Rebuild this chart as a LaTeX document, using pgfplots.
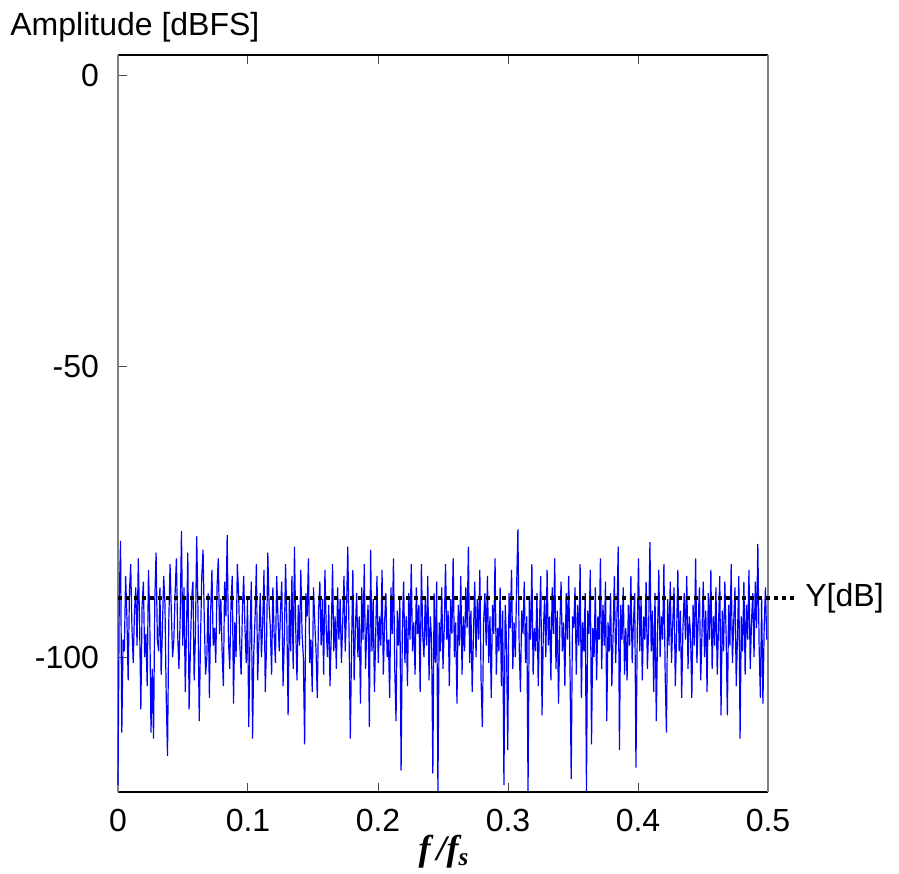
\documentclass[border=0pt]{standalone}
\usepackage{pgfplots}
\pgfplotsset{compat=1.18}
\usepackage{pgfplotstable}
\usepackage{fontspec}
\setmainfont{Liberation Sans}
\newfontfamily\timesf{Liberation Serif}

% noise spectrum, 512 bins (f = k/1024), one value per row
\pgfplotstableread[row sep=\\]{
y\\
-122\\ -90\\ -80\\ -113\\ -97\\ -99\\ -86\\ -93\\ -104\\ -89\\ -84\\ -95\\ -101\\ -92\\ -88\\ -98\\
-83\\ -94\\ -109\\ -91\\ -87\\ -100\\ -96\\ -105\\ -85\\ -93\\ -113\\ -102\\ -114\\ -90\\ -82\\ -97\\
-99\\ -88\\ -103\\ -95\\ -86\\ -91\\ -107\\ -117\\ -94\\ -84\\ -92\\ -100\\ -97\\ -89\\ -83\\ -96\\
-102\\ -93\\ -78.3\\ -98\\ -88\\ -106\\ -95\\ -82\\ -109\\ -99\\ -90\\ -87\\ -104\\ -96\\ -79.2\\ -92\\
-111\\ -97\\ -86\\ -81.5\\ -94\\ -103\\ -100\\ -89\\ -107\\ -92\\ -85\\ -98\\ -95\\ -101\\ -88\\ -83\\
-96\\ -90\\ -99\\ -105\\ -87\\ -93\\ -79\\ -97\\ -102\\ -91\\ -86\\ -108\\ -94\\ -100\\ -84\\ -89\\
-98\\ -103\\ -92\\ -86\\ -95\\ -101\\ -90\\ -112\\ -96\\ -87\\ -114\\ -99\\ -93\\ -84\\ -104\\ -97\\
-89\\ -100\\ -94\\ -85\\ -106\\ -98\\ -82\\ -91\\ -95\\ -103\\ -88\\ -96\\ -101\\ -86\\ -93\\ -99\\
-92\\ -87\\ -105\\ -97\\ -84\\ -94\\ -110\\ -90\\ -99\\ -86\\ -102\\ -81\\ -95\\ -104\\ -91\\ -98\\
-85\\ -96\\ -100\\ -115\\ -89\\ -93\\ -83\\ -101\\ -97\\ -106\\ -88\\ -94\\ -99\\ -107\\ -92\\ -87\\
-98\\ -90\\ -103\\ -85\\ -95\\ -100\\ -91\\ -105\\ -96\\ -84\\ -99\\ -93\\ -102\\ -88\\ -97\\ -90\\
-101\\ -94\\ -86\\ -99\\ -92\\ -81\\ -96\\ -114\\ -98\\ -85\\ -104\\ -95\\ -89\\ -100\\ -93\\ -108\\
-88\\ -97\\ -84\\ -102\\ -95\\ -91\\ -112\\ -81.5\\ -99\\ -90\\ -106\\ -96\\ -86\\ -101\\ -93\\ -98\\
-85\\ -103\\ -94\\ -89\\ -100\\ -97\\ -107\\ -88\\ -96\\ -83\\ -102\\ -111\\ -92\\ -98\\ -90\\ -119.5\\
-95\\ -87\\ -101\\ -93\\ -105\\ -89\\ -97\\ -84\\ -99\\ -94\\ -103\\ -88\\ -96\\ -91\\ -106\\ -84\\
-96\\ -100\\ -90\\ -98\\ -86\\ -104\\ -93\\ -97\\ -120\\ -89\\ -101\\ -87\\ -123\\ -94\\ -99\\ -88\\
-102\\ -95\\ -84\\ -97\\ -92\\ -105\\ -90\\ -96\\ -83\\ -100\\ -94\\ -108\\ -91\\ -98\\ -86\\ -103\\
-93\\ -99\\ -88\\ -95\\ -81\\ -101\\ -92\\ -106\\ -96\\ -87\\ -100\\ -90\\ -97\\ -85\\ -104\\ -112\\
-94\\ -89\\ -98\\ -86\\ -101\\ -93\\ -107\\ -91\\ -96\\ -83\\ -103\\ -95\\ -99\\ -88\\ -105\\ -92\\
-122\\ -91\\ -97\\ -116\\ -89\\ -95\\ -85\\ -102\\ -94\\ -100\\ -88\\ -78\\ -98\\ -106\\ -92\\ -96\\
-87\\ -101\\ -93\\ -123\\ -90\\ -97\\ -84\\ -103\\ -95\\ -99\\ -89\\ -105\\ -94\\ -86\\ -110\\ -96\\
-90\\ -100\\ -85\\ -98\\ -93\\ -104\\ -88\\ -96\\ -83\\ -102\\ -92\\ -108\\ -95\\ -87\\ -99\\ -94\\
-105\\ -89\\ -97\\ -86\\ -101\\ -121\\ -93\\ -95\\ -88\\ -103\\ -91\\ -98\\ -84\\ -107\\ -94\\ -99\\
-89\\ -123\\ -92\\ -96\\ -85\\ -115\\ -95\\ -100\\ -88\\ -104\\ -93\\ -97\\ -83\\ -102\\ -91\\ -98\\
-87\\ -111\\ -94\\ -99\\ -89\\ -105\\ -96\\ -86\\ -101\\ -93\\ -81\\ -116\\ -91\\ -97\\ -88\\ -103\\
-95\\ -104\\ -91\\ -98\\ -86\\ -101\\ -94\\ -89\\ -119\\ -96\\ -83\\ -99\\ -90\\ -104\\ -93\\ -97\\
-87\\ -102\\ -95\\ -80.2\\ -99\\ -92\\ -106\\ -89\\ -111\\ -96\\ -85\\ -100\\ -93\\ -97\\ -84\\ -103\\
-113\\ -90\\ -98\\ -87\\ -101\\ -94\\ -88\\ -105\\ -96\\ -85\\ -99\\ -92\\ -107\\ -95\\ -89\\ -97\\
-86\\ -102\\ -93\\ -96\\ -107\\ -91\\ -98\\ -83\\ -101\\ -94\\ -88\\ -104\\ -96\\ -87\\ -100\\ -92\\
-106\\ -89\\ -97\\ -85\\ -102\\ -93\\ -98\\ -88\\ -103\\ -95\\ -86\\ -110\\ -92\\ -99\\ -87\\ -96\\
-110\\ -91\\ -98\\ -84\\ -101\\ -94\\ -88\\ -105\\ -96\\ -86\\ -114\\ -93\\ -99\\ -87\\ -103\\ -91\\
-97\\ -85\\ -102\\ -94\\ -89\\ -100\\ -87\\ -95\\ -80.5\\ -98\\ -107\\ -90\\ -108\\ -95\\ -88\\ -97\\
}\noisetable

\begin{document}
\begin{tikzpicture}
\fontsize{16}{19}\selectfont
\path[use as bounding box] (-59pt,-40.5pt) rectangle (390.5pt,396pt);
\begin{axis}[
  at={(0,0)}, anchor=south west,
  scale only axis,
  width=325pt, height=368.5pt,
  xmin=0, xmax=0.5,
  ymin=-123.2, ymax=3.6,
  xtick={0,0.1,0.2,0.3,0.4,0.5},
  ytick={-100,-50,0},
  ytick pos=left,
  tick align=inside,
  major tick length=4.5pt,
  tick style={black!70, line width=0.5pt},
  separate axis lines,
  x axis line style={black, line width=0.6pt},
  y axis line style={black!50, line width=1pt},
  /pgf/number format/assume math mode=true,
  ticklabel style={font=\fontsize{16}{19}\selectfont},
  yticklabel style={xshift=-4pt},
  xticklabel style={yshift=-3pt},
  clip=false,
]
  \addplot[blue, line width=0.6pt] table[x expr=\coordindex/1024, y index=0] {\noisetable};
  \addplot[black, line width=2pt, dash pattern=on 1.8pt off 2.2pt] coordinates {(0,-89.8) (0.5223,-89.8)};
  \node[anchor=west, inner sep=0pt, xshift=4pt] at (axis cs:0.5223,-89.8) {Y[dB]};
\end{axis}
\node[anchor=base west, inner sep=0pt] at (-54pt,378pt) {Amplitude [dBFS]};
\node[anchor=base, inner sep=0pt] at (163pt,-34pt) {\fontsize{18}{22}\timesf\bfseries\itshape f\,/f\textsubscript{s}};
\end{tikzpicture}
\end{document}
